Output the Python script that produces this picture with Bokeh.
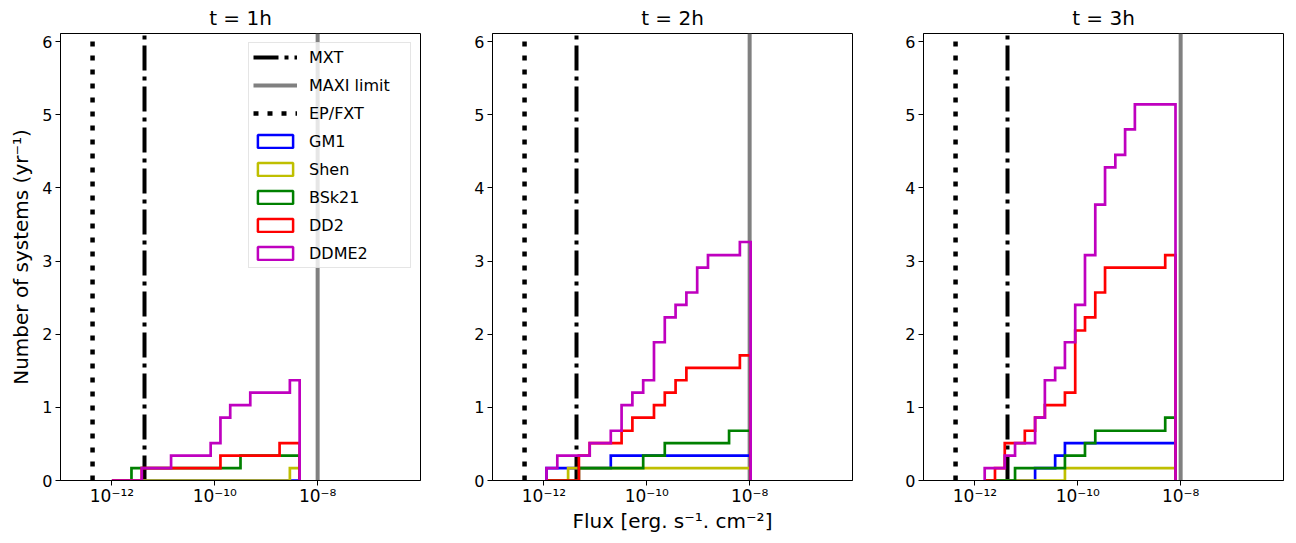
from bokeh.plotting import figure
from bokeh.models import Range1d, FixedTicker, CustomJSTickFormatter, Legend, LegendItem
from bokeh.layouts import row
from bokeh.embed import file_html
from bokeh.resources import INLINE

titles = ["t = 1h", "t = 2h", "t = 3h"]
series_names = ["GM1", "Shen", "BSk21", "DD2", "DDME2"]
series_colors = ["#0000ff", "#bfbf00", "#008000", "#ff0000", "#bf00bf"]

# detector sensitivities (erg s^-1 cm^-2)
mxt_flux = 4.3e-12
maxi_flux = 1.0e-8
epfxt_flux = 4.2e-13

# log10 of histogram bin edges, per panel
edges_1h = [-12.00, -11.81, -11.62, -11.42, -11.23, -11.04, -10.85, -10.66, -10.46, -10.27,
            -10.08, -9.89, -9.70, -9.50, -9.31, -9.12, -8.93, -8.74, -8.54, -8.35]
edges_2h = [-11.95, -11.74, -11.53, -11.32, -11.11, -10.90, -10.70, -10.49, -10.28, -10.07,
            -9.86, -9.65, -9.44, -9.23, -9.02, -8.81, -8.61, -8.40, -8.19, -7.98]
edges_3h = [-11.81, -11.61, -11.42, -11.22, -11.03, -10.83, -10.64, -10.44, -10.25, -10.05,
            -9.86, -9.66, -9.47, -9.27, -9.08, -8.89, -8.69, -8.50, -8.30, -8.10]

# cumulative number of systems (yr^-1) per bin
gm1_1h = [0, 0, 0, 0, 0, 0, 0, 0, 0, 0, 0, 0, 0, 0, 0, 0, 0, 0, 0]
shen_1h = [0, 0, 0, 0, 0, 0, 0, 0, 0, 0, 0, 0, 0, 0, 0, 0, 0, 0, 0.17]
bsk21_1h = [0, 0, 0.17, 0.17, 0.17, 0.17, 0.17, 0.17, 0.17, 0.17, 0.17, 0.17, 0.17, 0.34, 0.34, 0.34, 0.34, 0.34, 0.34]
dd2_1h = [0, 0, 0, 0.17, 0.17, 0.17, 0.17, 0.17, 0.17, 0.17, 0.17, 0.34, 0.34, 0.34, 0.34, 0.34, 0.34, 0.51, 0.51]
ddme2_1h = [0, 0, 0, 0.17, 0.17, 0.17, 0.34, 0.34, 0.34, 0.34, 0.51, 0.86, 1.03, 1.03, 1.20, 1.20, 1.20, 1.20, 1.37]

gm1_2h = [0.17, 0.17, 0.17, 0.17, 0.17, 0.17, 0.34, 0.34, 0.34, 0.34, 0.34, 0.34, 0.34, 0.34, 0.34, 0.34, 0.34, 0.34, 0.34]
shen_2h = [0, 0, 0.17, 0.17, 0.17, 0.17, 0.17, 0.17, 0.17, 0.17, 0.17, 0.17, 0.17, 0.17, 0.17, 0.17, 0.17, 0.17, 0.17]
bsk21_2h = [0, 0, 0, 0.17, 0.17, 0.17, 0.17, 0.17, 0.17, 0.34, 0.34, 0.51, 0.51, 0.51, 0.51, 0.51, 0.51, 0.68, 0.68]
dd2_2h = [0, 0, 0, 0.34, 0.51, 0.51, 0.51, 0.68, 0.86, 0.86, 1.03, 1.20, 1.37, 1.54, 1.54, 1.54, 1.54, 1.54, 1.71]
ddme2_2h = [0.17, 0.34, 0.34, 0.34, 0.51, 0.51, 0.68, 1.03, 1.20, 1.37, 1.89, 2.23, 2.40, 2.57, 2.91, 3.08, 3.08, 3.08, 3.26]

gm1_3h = [0, 0, 0, 0, 0, 0.17, 0.17, 0.34, 0.51, 0.51, 0.51, 0.51, 0.51, 0.51, 0.51, 0.51, 0.51, 0.51, 0.51]
shen_3h = [0, 0, 0, 0, 0, 0, 0, 0, 0.17, 0.17, 0.17, 0.17, 0.17, 0.17, 0.17, 0.17, 0.17, 0.17, 0.17]
bsk21_3h = [0, 0, 0, 0.17, 0.17, 0.17, 0.17, 0.17, 0.34, 0.34, 0.51, 0.68, 0.68, 0.68, 0.68, 0.68, 0.68, 0.68, 0.86]
dd2_3h = [0, 0.17, 0.51, 0.51, 0.68, 0.86, 1.03, 1.03, 1.20, 2.05, 2.23, 2.57, 2.91, 2.91, 2.91, 2.91, 2.91, 2.91, 3.08]
ddme2_3h = [0.17, 0.17, 0.34, 0.51, 0.51, 0.86, 1.37, 1.54, 1.89, 2.40, 3.08, 3.77, 4.28, 4.45, 4.80, 5.14, 5.14, 5.14, 5.14]

panels = [
    (edges_1h, [gm1_1h, shen_1h, bsk21_1h, dd2_1h, ddme2_1h]),
    (edges_2h, [gm1_2h, shen_2h, bsk21_2h, dd2_2h, ddme2_2h]),
    (edges_3h, [gm1_3h, shen_3h, bsk21_3h, dd2_3h, ddme2_3h]),
]

x_lim = (1e-13, 1e-6)
y_lim = (0, 6.11)
x_ticks = [1e-12, 1e-10, 1e-8]
y_ticks = [0, 1, 2, 3, 4, 5, 6]

FONT = "DejaVu Sans"

sup_js = """
const sup = {'-':'\u207b','0':'\u2070','1':'\u00b9','2':'\u00b2','3':'\u00b3','4':'\u2074',
             '5':'\u2075','6':'\u2076','7':'\u2077','8':'\u2078','9':'\u2079'};
const e = Math.round(Math.log10(tick));
return '10' + String(e).split('').map(c => sup[c]).join('');
"""

def step_outline(edges_log, vals):
    e = [10 ** v for v in edges_log]
    xs = [e[0]]
    ys = [0]
    for i, v in enumerate(vals):
        xs += [e[i], e[i + 1]]
        ys += [v, v]
    xs.append(e[-1])
    ys.append(0)
    return xs, ys

layout_specs = [
    dict(width=436, left=60, right=16),
    dict(width=432, left=56, right=16),
    dict(width=428, left=55, right=13),
]

figs = []
for k, (edges, series) in enumerate(panels):
    spec = layout_specs[k]
    p = figure(width=spec["width"], height=543, x_axis_type="log",
               x_range=Range1d(*x_lim), y_range=Range1d(*y_lim),
               output_backend="svg", toolbar_location=None,
               min_border_left=spec["left"], min_border_right=spec["right"],
               min_border_top=32, min_border_bottom=63, title=titles[k])
    p.title.align = "center"
    p.title.text_font = FONT
    p.title.text_font_size = "20px"
    p.title.text_font_style = "normal"
    p.title.text_color = "black"
    p.title.standoff = 7
    p.grid.visible = False
    p.outline_line_color = "black"
    p.outline_line_width = 1
    p.background_fill_color = "white"
    p.border_fill_color = "white"

    p.xaxis.ticker = FixedTicker(ticks=x_ticks)
    p.xaxis.formatter = CustomJSTickFormatter(code=sup_js)
    p.yaxis.ticker = FixedTicker(ticks=y_ticks)
    for ax in (p.xaxis, p.yaxis):
        ax.major_label_text_font = FONT
        ax.major_label_text_font_size = "16px"
        ax.major_label_text_color = "black"
        ax.axis_line_color = "black"
        ax.major_tick_line_color = "black"
        ax.major_tick_out = 5
        ax.major_tick_in = 0
        ax.minor_tick_line_color = None
        ax.axis_label_text_font = FONT
        ax.axis_label_text_font_size = "20px"
        ax.axis_label_text_font_style = "normal"
        ax.axis_label_text_color = "black"
    p.xaxis.major_label_text_font_size = "17px"
    p.xaxis.major_label_standoff = 0
    p.yaxis.major_label_standoff = 3
    if k == 0:
        p.yaxis.axis_label = "Number of systems (yr\u207b\u00b9)"
        p.yaxis.axis_label_standoff = 6
    if k == 1:
        p.xaxis.axis_label = "Flux [erg. s\u207b\u00b9. cm\u207b\u00b2]"
        p.xaxis.axis_label_standoff = 0

    r_mxt = p.line([mxt_flux, mxt_flux], list(y_lim), line_color="black", line_width=4,
                   line_dash="25 6 4 6")
    r_maxi = p.line([maxi_flux, maxi_flux], list(y_lim), line_color="#808080", line_width=4)
    r_ep = p.line([epfxt_flux, epfxt_flux], list(y_lim), line_color="black", line_width=4.5,
                  line_dash="5 9")

    legend_rs = []
    for name, color, vals in zip(series_names, series_colors, series):
        xs, ys = step_outline(edges, vals)
        p.line(xs, ys, line_color=color, line_width=2.7, line_join="miter")
        # zero-size patch used only for the legend swatch
        e0 = 10 ** edges[0]
        dummy = p.quad(left=[e0], right=[e0], top=[0], bottom=[0], fill_color="white",
                       fill_alpha=0, line_color=color, line_width=2.5)
        legend_rs.append((name, dummy))

    if k == 0:
        items = [LegendItem(label="MXT", renderers=[r_mxt]),
                 LegendItem(label="MAXI limit", renderers=[r_maxi]),
                 LegendItem(label="EP/FXT", renderers=[r_ep])]
        items += [LegendItem(label=n, renderers=[r]) for n, r in legend_rs]
        leg = Legend(items=items, location="top_right", margin=9, padding=4,
                     spacing=8, label_height=20, glyph_height=16, glyph_width=44,
                     label_standoff=12, label_width=97,
                     label_text_font=FONT, label_text_font_size="16px",
                     label_text_color="black",
                     border_line_color="#cccccc", border_line_width=1,
                     background_fill_color="white", background_fill_alpha=0.8)
        p.add_layout(leg)
    figs.append(p)

layout = row(*figs)
open("out.html", "w").write(file_html(layout, INLINE))
